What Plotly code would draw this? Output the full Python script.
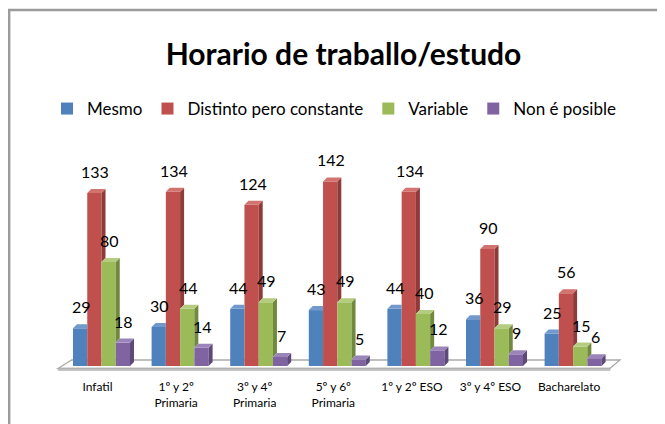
import plotly.graph_objects as go

# ---------------- data ----------------
categories = ["Infatil", "1º y 2º<br>Primaria", "3º y 4º<br>Primaria", "5º y 6º<br>Primaria",
              "1º y 2º ESO", "3º y 4º ESO", "Bacharelato"]
series_names = ["Mesmo", "Distinto pero constante", "Variable", "Non é posible"]
mesmo = [29, 30, 44, 43, 44, 36, 25]
distinto = [133, 134, 124, 142, 134, 90, 56]
variable = [80, 44, 49, 49, 40, 29, 15]
non_posible = [18, 14, 7, 5, 12, 9, 6]
series_values = [mesmo, distinto, variable, non_posible]

# ---------------- styles ----------------
front_colors = ["#4F81BD", "#C0504D", "#9BBB59", "#8064A2"]
side_colors = ["#3A6190", "#8E3B39", "#71893F", "#5E4A78"]
top_colors = ["#7199CC", "#D27370", "#B3CC7E", "#9A84B9"]
FONT = "Lato"

W, H = 665, 424
OFF = 8  # page offset of the figure (default body margin)
L, T = 54 - OFF, 150 - OFF
plot_w, plot_h = 570, 224
R, B = W - L - plot_w, H - T - plot_h
px_per_x = 78.6
px_per_y = 1.3
x_center0 = 101.5   # page pixel of first group center
y_zero = 366.0      # page pixel of value 0
x_min = (L + OFF - x_center0) / px_per_x
x_max = (L + OFF + plot_w - x_center0) / px_per_x
y_min = (y_zero - (T + OFF + plot_h)) / px_per_y
y_max = (y_zero - (T + OFF)) / px_per_y


def dx_px(p):
    return p / px_per_x


def dy_px(p):
    return p / px_per_y


def xd(px):
    return (px - x_center0) / px_per_x


def yd(py):
    return (y_zero - py) / px_per_y


n_series = len(series_values)
bargap = 1 - 4 * 14.25 / px_per_x
bw = (1 - bargap) / n_series
ddx = dx_px(4.0)
ddy = dy_px(4.0)

fig = go.Figure()

# front faces (bars)
for k, (name, vals) in enumerate(zip(series_names, series_values)):
    fig.add_trace(go.Bar(
        x=list(range(len(categories))), y=vals, name=name,
        marker=dict(color=front_colors[k], line=dict(width=0)),
        hovertemplate=name + ": %{y}<extra></extra>",
    ))

# side and top faces (3D look), computed from the data
for k, vals in enumerate(series_values):
    sx, sy, tx, ty = [], [], [], []
    for i, v in enumerate(vals):
        c = i + (k - (n_series - 1) / 2) * bw
        xl, xr = c - bw / 2, c + bw / 2
        nxt = series_values[k + 1][i] if k + 1 < n_series else 0
        if v > nxt:
            sx += [xr, xr + ddx, xr + ddx, xr, xr, None]
            sy += [nxt, nxt + ddy, v + ddy, v, nxt, None]
        if nxt > v:
            tx += [xl, xl + ddx, xr, xr, xl, None]
            ty += [v, v + ddy, v + ddy, v, v, None]
        else:
            tx += [xl, xl + ddx, xr + ddx, xr, xl, None]
            ty += [v, v + ddy, v + ddy, v, v, None]
    fig.add_trace(go.Scatter(x=sx, y=sy, mode="lines", fill="toself",
                             fillcolor=side_colors[k], line=dict(width=0),
                             showlegend=False, hoverinfo="skip"))
    fig.add_trace(go.Scatter(x=tx, y=ty, mode="lines", fill="toself",
                             fillcolor=top_colors[k], line=dict(width=0),
                             showlegend=False, hoverinfo="skip"))

# data labels
for k, vals in enumerate(series_values):
    for i, v in enumerate(vals):
        c = i + (k - (n_series - 1) / 2) * bw
        fig.add_annotation(x=c, y=v, text=str(v), showarrow=False,
                           yshift=21.5, xshift=1, yanchor="middle",
                           font=dict(family=FONT, size=16, color="#000000"))

# floor
fl, fr, bl, br = xd(58.3), xd(610), xd(71.7), xd(620)
yf, yb = yd(368.3), yd(360)
fig.add_shape(type="path", layer="below", xref="x", yref="y",
              path=f"M{fl},{yf} L{fr},{yf} L{br},{yb} L{bl},{yb} Z",
              fillcolor="#FFFFFF", line=dict(color="#ABABAB", width=1.3))
fig.add_shape(type="path", layer="below", xref="x", yref="y",
              path=f"M{fl},{yf} L{fr},{yf} L{fr},{yd(370.3)} L{fl},{yd(370.3)} Z",
              fillcolor="#C6C6C6", line=dict(color="#ABABAB", width=0.8))

# chart border
fig.add_shape(type="rect", xref="paper", yref="paper",
              x0=(1.2 - L) / plot_w, x1=(W + 10 - L) / plot_w,
              y0=-(H + 10 - (T + plot_h)) / plot_h, y1=(T + plot_h - 2) / plot_h,
              line=dict(color="#9C9C9C", width=2.4), fillcolor="rgba(0,0,0,0)")

fig.update_layout(
    width=W, height=H,
    margin=dict(l=L, r=R, t=T, b=B),
    paper_bgcolor="#FFFFFF", plot_bgcolor="#FFFFFF",
    barmode="group", bargap=bargap, bargroupgap=0,
    title=dict(text="Horario de traballo/estudo", x=(343.5 - OFF) / W, xanchor="center",
               y=1 - (54 - OFF) / H, yanchor="middle",
               font=dict(family=FONT, size=30, color="#000000", weight="bold")),
    legend=dict(orientation="h", x=(47 - 54) / plot_w, xanchor="left",
                y=(150 + plot_h - 109) / plot_h, yanchor="middle",
                font=dict(family=FONT, size=17, color="#000000"),
                bgcolor="rgba(0,0,0,0)", traceorder="normal"),
    xaxis=dict(range=[x_min, x_max], showgrid=False, zeroline=False, showline=False,
               tickvals=[i - dx_px(4) for i in range(len(categories))],
               ticktext=categories, ticks="", ticklabelstandoff=4,
               tickfont=dict(family=FONT, size=12, color="#000000"), fixedrange=True),
    yaxis=dict(range=[y_min, y_max], visible=False, fixedrange=True),
    showlegend=True,
)

fig.write_html("out.html")
